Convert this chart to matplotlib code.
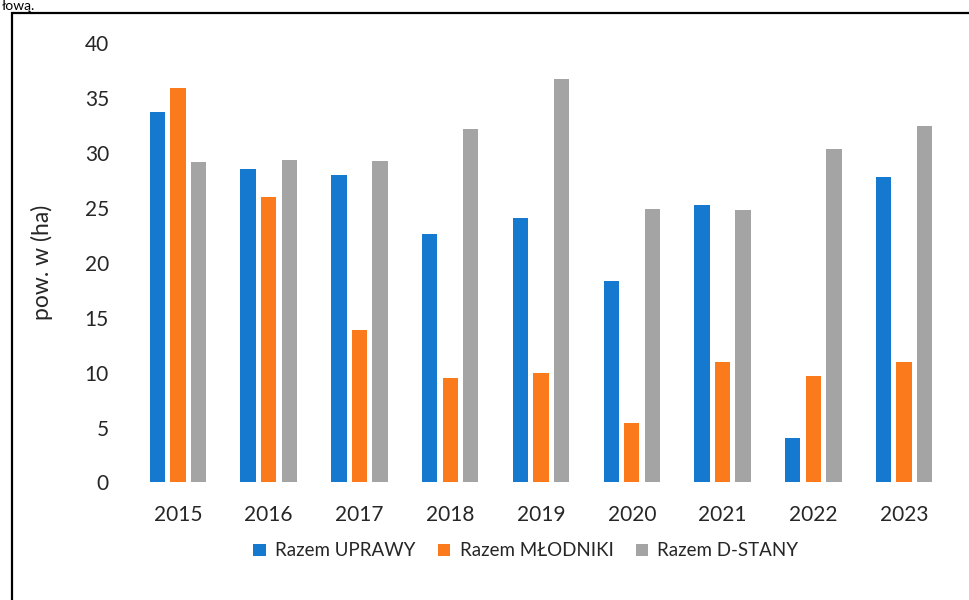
import numpy as np
import matplotlib
matplotlib.use("Agg")
import matplotlib.pyplot as plt
from matplotlib.patches import Rectangle

plt.rcParams["font.family"] = ["Lato", "DejaVu Sans"]

# ---------- dane ----------
lata = ["2015", "2016", "2017", "2018", "2019", "2020", "2021", "2022", "2023"]
uprawy = [33.7, 28.5, 28.0, 22.6, 24.1, 18.3, 25.3, 4.0, 27.8]
mlodniki = [35.9, 26.0, 13.9, 9.5, 10.0, 5.4, 11.0, 9.7, 11.0]
d_stany = [29.2, 29.4, 29.3, 32.2, 36.7, 24.9, 24.8, 30.4, 32.5]

serie = [
    ("Razem UPRAWY", uprawy, "#1479cf"),
    ("Razem MŁODNIKI", mlodniki, "#fa7a1c"),
    ("Razem D-STANY", d_stany, "#a4a4a4"),
]

fig = plt.figure(figsize=(9.69, 6.0), dpi=100)
ax = fig.add_axes([0.1368, 0.196, 0.843, 0.732])

x = np.arange(len(lata))
krok, szer = 0.226, 0.17
for i, (nazwa, wartosci, kolor) in enumerate(serie):
    ax.bar(x + (i - 1) * krok, wartosci, width=szer, color=kolor, label=nazwa)

ax.set_xlim(-0.5, len(lata) - 0.5)
ax.set_ylim(0, 40)
ax.set_yticks(np.arange(0, 41, 5))
ax.set_xticks(x)
ax.set_xticklabels(lata)
for s in ax.spines.values():
    s.set_visible(False)
ax.tick_params(axis="y", length=0, pad=17, labelsize=15, labelcolor="#262626")
ax.tick_params(axis="x", length=0, pad=16, labelsize=15, labelcolor="#262626")
ax.set_ylabel("pow. w (ha)", fontsize=16.5, color="#262626")
ax.yaxis.set_label_coords(-0.098, 0.5)

fig.legend(loc="center", bbox_to_anchor=(526 / 969, 1 - 551 / 600), ncol=3,
           frameon=False, fontsize=13.5, handlelength=0.65, handleheight=0.65,
           handletextpad=0.5, columnspacing=1.2, labelcolor="#262626")

# ramka wokół wykresu
fig.patches.append(Rectangle((12 / 969, -0.1), 1.2, 1 - 13 / 600 + 0.1,
                             transform=fig.transFigure, fill=False,
                             edgecolor="black", linewidth=1.6))

# końcówka zdania z akapitu powyżej
fig.text(2 / 969, 1 - 10 / 600, "łową.", fontsize=10, color="black",
         ha="left", va="baseline")

fig.savefig("out.png", dpi=100)
